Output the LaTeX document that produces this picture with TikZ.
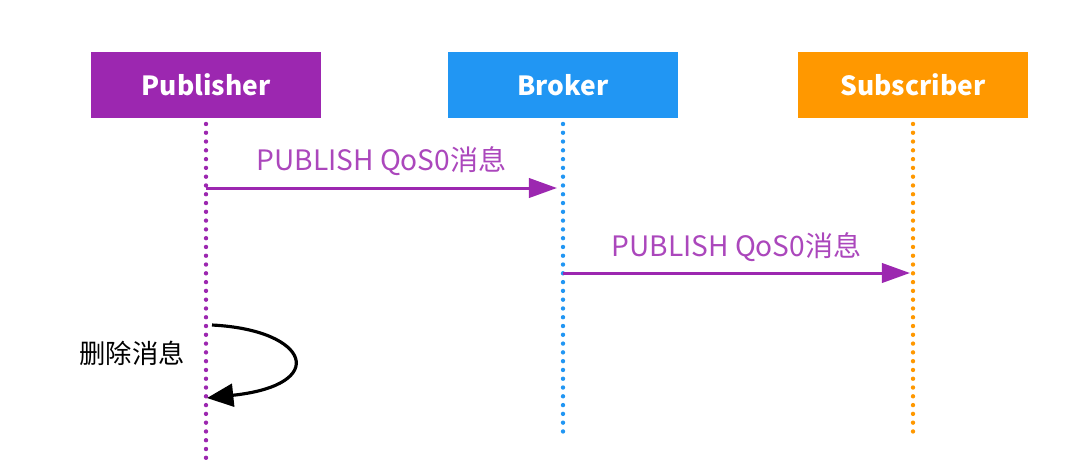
\documentclass[tikz,border=0pt]{standalone}
\usepackage{fontspec}
\setmainfont{Noto Sans CJK SC}
\usepackage{tikz}
\usetikzlibrary{arrows.meta}

\definecolor{pubpurple}{HTML}{9C27B0}
\definecolor{brokerblue}{HTML}{2196F3}
\definecolor{subbrown}{HTML}{FF9800}
\definecolor{msgpurple}{HTML}{AB47BC}

\begin{document}
\begin{tikzpicture}
  [
    x = 0.02cm, y = -0.02cm, thick,
    actor/.style = {rectangle, minimum width = 4.6cm, minimum height = 1.32cm,
                    inner sep = 0pt, text = white, font = \fontsize{15}{17}\selectfont\bfseries},
    lifeline/.style = {line width = 2.5pt, line cap = round,
                       dash pattern = on 0pt off 5pt},
    message/.style = {draw = pubpurple, line width = 1.7pt,
                      -{Triangle[length = 16pt, width = 11pt]}},
    msglabel/.style = {text = msgpurple, font = \fontsize{16}{18}\selectfont}
  ]
  \useasboundingbox (0,0) rectangle (1077,467);
  % actors
  \node [actor, fill = pubpurple]  (Pub) at (206,85) {Publisher};
  \node [actor, fill = brokerblue] (Bro) at (563,85) {Broker};
  \node [actor, fill = subbrown]   (Sub) at (913,85) {Subscriber};
  % life lines
  \coordinate (PubEnd) at (206,458);
  \coordinate (BroEnd) at (563,438);
  \coordinate (SubEnd) at (913,438);
  \draw [lifeline, pubpurple]  ([yshift=-3pt]Pub.south) -- (PubEnd);
  \draw [lifeline, brokerblue] ([yshift=-3pt]Bro.south) -- (BroEnd);
  \draw [lifeline, subbrown]   ([yshift=-3pt]Sub.south) -- (SubEnd);
  % messages
  \coordinate (M1a) at (206,188);
  \coordinate (M1b) at (557,188);
  \coordinate (M2a) at (563,273);
  \coordinate (M2b) at (910,273);
  \draw [message] (M1a) -- (M1b) node [msglabel, midway, above=3pt] {PUBLISH QoS0消息};
  \draw [message] (M2a) -- (M2b) node [msglabel, midway, above=2pt] {PUBLISH QoS0消息};
  % self message
  \coordinate (Da) at (212,325);
  \coordinate (Db) at (207,398);
  \draw [black, line width = 1.8pt, -{Triangle[length = 15pt, width = 13pt]}]
    (Da) .. controls (310,330) and (330,385) .. (Db);
  \node [font = \fontsize{15}{17}\selectfont] (Del) at (132,353) {删除消息};
\end{tikzpicture}
\end{document}
